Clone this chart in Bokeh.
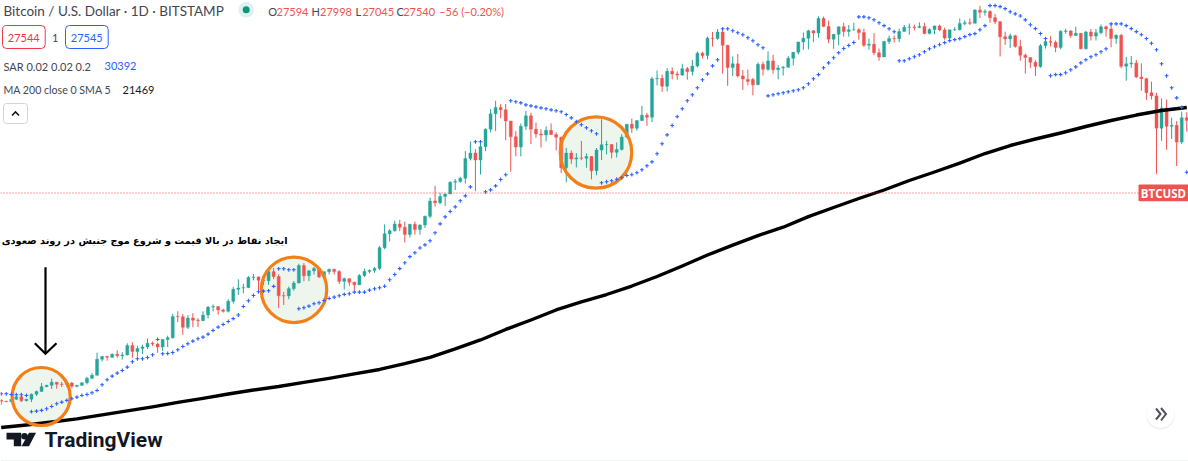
from bokeh.plotting import figure
from bokeh.models import Label, Span, BoxAnnotation
from bokeh.embed import file_html
from bokeh.resources import INLINE
import math

W, H = 1188, 461

opens = [
10620,10570,10550,10670,10790,10600,10670,10920,11060,11300,
11370,11530,11430,11420,11500,11320,11370,11510,11750,11910,
12820,12980,12930,13120,13030,13070,13650,13280,13460,13560,
13800,13750,13560,14030,14150,15590,15580,14840,15480,15330,
15290,15700,16280,16320,16070,15970,16720,17660,17770,17800,
18650,18690,18420,18370,19160,18730,17150,17130,17720,18180,
19700,18800,19220,19440,18700,19150,19360,19170,18320,18550,
18250,18030,18810,19170,19270,19440,21380,22800,23110,23830,
23480,22720,23810,23240,23730,24690,26490,26280,27040,27360,
28880,28980,29390,32200,33000,31980,33990,36830,39510,40670,
40240,38240,35570,33920,37330,39150,36830,36020,35840,36630,
35920,35490,30850,33000,32100,32270,32230,32480,30430,33470,
34280,34320,33110,33540,35510,37680,36970,38300,39250,38900,
46400,46490,44850,48010,47420,47190,48600,47970,49200,52170,
51600,55900,55800,57500,54100,48880,49700,47020,46230,46250,
45140,49590,48470,50370,48370,48770,48900,50970,52410,54920,
55850,57810,57230,61190,59000,55650,56900,58900,57650,58080,
58100,57350,54100,54340,52300,51300,55050,55800,55780,57630,
58790,58810,58720,58980,57090,58200,59130,58050,55950,58090,
58130,59770,60000,59860,63600,62950,63200,61400,60300,56250,
55700,56500,53800,51700,51150,50050,49100,54000,55040,54870,
53570,57650,57800,56580,57170,53240,57500,56430,57340,58900,
58290,55820,56650,49150,49700,49900,46760,46430,43540,42900,
37000,40600,37300,37500,34700,38800]
highs = [
10660,10590,10690,10800,10800,10680,10950,11100,11490,11400,
11730,11550,11550,11630,11540,11400,11520,11820,12020,13210,
13020,13030,13170,13350,13240,13790,13860,13640,13700,14100,
13900,13830,14070,14280,15790,15970,15770,15680,15840,15480,
15970,16350,16480,16330,16170,16870,17860,18490,18130,18780,
18960,18750,18770,19420,19480,18930,17460,17890,18350,19860,
19920,19310,19570,19540,19180,19420,19420,19280,18640,18560,
18290,18940,19420,19350,19570,21560,23800,23280,24200,24300,
24100,23840,24100,23800,24770,26900,28400,27500,27400,29000,
29300,29600,33300,34800,33600,34500,36950,40370,41950,41300,
41350,38200,36500,37800,40050,39700,37950,36800,37300,37800,
36300,35600,33800,33400,33000,34900,32950,32530,33780,38530,
34900,34400,34650,35990,37700,38650,38320,40970,39700,46770,
48200,47300,48700,48900,48000,49700,49000,50600,52600,52500,
56300,57500,58300,58000,54200,51400,52000,48300,48400,46600,
50000,50200,52600,51800,49400,49200,51500,52450,55000,57400,
58100,58000,61800,61700,60600,56950,58950,60000,59400,60000,
58500,58400,55800,57200,53300,55250,56600,56600,58400,59400,
59800,59500,60100,60000,58500,59200,59500,58650,58100,58800,
61200,60700,61200,63800,64850,63800,63500,62500,60400,57600,
57100,56800,55500,52100,51150,50500,54400,55400,56400,55300,
57950,58400,58000,58900,57200,57850,58300,58300,59500,59200,
59600,56900,57000,51300,51500,50600,49800,46600,45800,43500,
42400,42200,38800,38200,39900,39800]
lows = [
10400,10530,10520,10630,10530,10560,10530,10830,11050,11280,
11180,11200,11280,11270,11220,11260,11340,11420,11690,11900,
12690,12730,12900,12910,12800,13050,12900,12980,13130,13430,
13620,13200,13300,13550,14090,15200,14340,14720,14840,14850,
15280,15460,15960,15720,15870,15880,16550,17220,17340,17760,
18400,17610,18000,18030,18500,16200,16440,16880,17560,18170,
18330,18340,18910,18600,18500,18900,18900,18100,17650,17920,
17570,18020,18700,19000,19050,19290,21230,22000,23000,23060,
21900,22400,22700,22700,23400,24500,25800,26100,25880,27320,
27850,28800,28700,31900,27700,29900,33300,36300,36500,38700,
35000,30300,32500,32500,36700,34400,35400,33850,34800,35850,
33400,30100,28850,31400,30900,31950,30850,29250,29800,31950,
32800,32200,32350,33400,35370,36200,36570,38230,37400,38050,
45000,43700,43800,46300,46200,47050,46200,47100,48900,50900,
50700,53800,55500,47500,44900,47000,46700,44100,45000,43000,
45100,47100,48100,47500,46300,47100,48900,49300,51900,53000,
53100,54900,56000,58900,54600,53250,54100,56300,56300,57850,
55500,53700,53000,51700,50400,51300,54400,54800,54900,57700,
56800,57900,58500,56950,56900,56900,57700,55500,55700,57800,
57900,59300,59400,59800,61300,62000,60000,59600,51400,54200,
53400,53500,50400,47500,48800,47000,48800,53300,53800,52400,
53100,57050,56000,56450,53100,53100,55300,55300,56900,56300,
53600,54500,48700,46000,48800,46600,43900,42100,42200,30000,
34900,33500,35200,31100,34400,36400]
closes = [
10570,10550,10670,10790,10600,10670,10920,11060,11300,11370,
11530,11430,11420,11500,11320,11370,11510,11750,11910,12820,
12980,12930,13120,13030,13070,13650,13280,13460,13560,13800,
13750,13560,14030,14150,15590,15580,14840,15480,15330,15290,
15700,16280,16320,16070,15970,16720,17660,17770,17800,18650,
18690,18420,18370,19160,18730,17150,17130,17720,18180,19700,
18800,19220,19440,18700,19150,19360,19170,18320,18550,18250,
18030,18810,19170,19270,19440,21380,22800,23110,23830,23480,
22720,23810,23240,23730,24690,26490,26280,27040,27360,28880,
28980,29390,32200,33000,31980,33990,36830,39510,40670,40240,
38240,35570,33920,37330,39150,36830,36020,35840,36630,35920,
35490,30850,33000,32100,32270,32230,32480,30430,33470,34280,
34320,33110,33540,35510,37680,36970,38300,39250,38900,46400,
46490,44850,48010,47420,47190,48600,47970,49200,52170,51600,
55900,55800,57500,54100,48880,49700,47020,46340,45850,45140,
49590,48470,50370,48370,48770,48900,50970,52410,54920,55850,
57810,57230,61190,59000,55650,56900,58900,57650,58080,58100,
57350,54100,54340,52300,51300,55050,55820,55780,57630,58790,
58810,58720,58980,57090,58200,59130,58050,55950,58090,58130,
59770,60000,59860,63600,62950,63200,61400,60300,56250,55700,
56500,53800,51700,51150,50050,49100,54000,55030,54870,53570,
57700,57800,56580,57170,53240,57500,56430,57340,58900,58290,
55820,56650,49150,49700,49900,46760,46430,43540,42900,37000,
40600,37300,37500,34700,38800,38300]
sar = [
10938,10938,10903,10890,10890,10855,10075,10102,10135,10214,
10321,10451,10528,10611,10694,10772,10855,10903,10990,11107,
11400,11668,11860,12025,12175,12360,12670,12845,12845,12920,
13080,14035,13140,13160,13220,13385,13590,13760,13925,14080,
14185,14385,14626,14850,15035,15240,15440,15700,16330,16760,
17170,17470,17515,17545,17900,19405,19405,19320,19320,16156,
16230,16355,16535,16610,16783,16940,17040,17150,17255,17310,
17440,17440,17440,17595,17710,17790,17920,18455,18905,19420,
19950,20526,20885,21356,21660,22070,22890,23853,24624,25240,
25780,26510,27115,28255,34750,34750,27630,27880,28390,29230,
29880,41940,41750,41550,41170,40980,40790,40600,40430,40240,
40060,39880,39380,38790,38100,37580,37060,36550,36050,28790,
28930,29060,29270,29460,29780,29880,30160,30560,31130,31700,
32900,34440,35880,37450,38990,40430,41940,43110,44520,46180,
47460,49230,50620,58360,58360,57830,57290,56780,56010,55240,
54230,53480,42900,43110,43310,43510,43710,43910,44110,44520,
45340,46400,47300,48800,49920,51100,52270,53310,54050,54800,
61650,61650,61380,60810,59980,59200,58360,57570,50390,50390,
50860,51330,51800,52510,53240,53750,54250,54770,55270,55520,
55790,56300,56820,57080,58100,59200,64900,64900,64600,64000,
63100,62500,61900,60800,59450,58400,57100,55800,47050,47300,
47300,47700,48350,49010,49920,50620,51320,51800,52510,53240,
59680,59680,59680,59200,58400,57600,56800,55800,54600,53000,
49700,47050,44520,42500,40700,30220]
ma_days = list(range(0, 236, 5))
ma200 = [
9372,9480,9613,9750,9930,10112,10300,10515,10710,10930,
11130,11310,11525,11740,11985,12230,12557,12933,13435,14003,
14693,15347,16068,16667,17248,17932,18736,19658,20672,21641,
22606,23487,24659,25709,26793,27857,29099,30255,31527,32932,
34165,35201,36180,37280,38320,39290,40120,40670]
last_close = 27540

UP, DOWN, BLUE, ORANGE = "#26a69a", "#ef5350", "#2962ff", "#f57f17"
days = list(range(len(closes)))

# ---- pixel layout of the plot: frame -> data
x0, dx = 0.7, 5.045
px_per_log = 218.0
def X(px):
    return (px - x0) / dx
def Y(py):
    return last_close * math.exp((192 - py) / px_per_log)

p = figure(width=W, height=H, output_backend="svg", toolbar_location=None,
           x_range=(X(0), X(W)), y_range=(Y(H), Y(0)), y_axis_type="log",
           x_axis_location=None, y_axis_location=None, min_border=0,
           outline_line_color=None, background_fill_color="white")
p.grid.visible = False

# circles' fills under the candles
rings = [(40.7, 396, 58), (293.5, 289.3, 65.5), (595.5, 152, 71.5)]
p.scatter([X(r[0]) for r in rings], [Y(r[1]) for r in rings], size=[r[2] for r in rings],
          marker="circle", fill_color="#edf5ec", line_color=None)

# price line
p.add_layout(Span(location=Y(192.5), dimension="width", line_color="#f04040",
                  line_width=1.2, line_dash="1 2"))

colors = [UP if c >= o else DOWN for o, c in zip(opens, closes)]
p.segment(days, lows, days, highs, color=colors, line_width=1)
p.vbar(x=days, bottom=[min(o, c) for o, c in zip(opens, closes)],
       top=[max(o, c) for o, c in zip(opens, closes)], width=0.6,
       fill_color=colors, line_color=colors, line_width=0.4)

p.line(ma_days, ma200, line_color="black", line_width=3.4, line_join="round")
p.scatter([X(r[0]) for r in rings], [Y(r[1]) for r in rings], size=[r[2] for r in rings],
          marker="circle", fill_color=None, line_color=ORANGE, line_width=3.2)
p.scatter(days, sar, marker="cross", size=3.8, line_color=BLUE, line_width=1.1)

# screen-space helpers
def txt(x, yc, s, color="#131722", size=12, font="Lato", weight="normal", align="left"):
    p.add_layout(Label(x=x, y=H - yc, x_units="screen", y_units="screen", text=s,
                       text_color=color, text_font_size=f"{size}px", text_font=font,
                       text_font_style=weight, text_baseline="middle", text_align=align))
def box(l, t, r, b, fill=None, line=None, radius=0):
    p.add_layout(BoxAnnotation(left=l, right=r, top=H - t, bottom=H - b, left_units="screen",
                               right_units="screen", top_units="screen", bottom_units="screen",
                               fill_color=fill or "white", fill_alpha=1 if fill else 0,
                               line_color=line or "white", line_alpha=1 if line else 0, line_width=1,
                               border_radius=radius))
def stroke(pts, color="black", w=2):
    p.line([X(a) for a, _ in pts], [Y(b) for _, b in pts], line_color=color, line_width=w,
           line_join="miter")

# legend
FONT = "Lato"
GRAY = "#434651"
txt(3, 10, "Bitcoin / U.S. Dollar · 1D · BITSTAMP", GRAY, 13.5, FONT)
p.scatter([X(245.7)], [Y(9.3)], size=15.5, marker="circle", fill_color="#dff1ee", line_color=None)
p.scatter([X(245.7)], [Y(9.3)], size=7, marker="circle", fill_color="#089981", line_color=None)
for xt, s, c in [(267.7, "O", GRAY), (276, "27594", DOWN), (311, "H", GRAY), (319.5, "27998", DOWN),
                 (355, "L", GRAY), (361.7, "27045", DOWN), (396, "C", GRAY), (402.7, "27540", DOWN),
                 (438.7, "−56 (−0.20%)", DOWN)]:
    txt(xt, 11, s, c, 11, FONT)
box(2, 25, 44.7, 48, None, "#f23645", 4)
txt(23.3, 37.5, "27544", "#f23645", 11, FONT, align="center")
txt(54.7, 37.5, "1", GRAY, 11, FONT, align="center")
box(65, 25, 107.7, 48, None, "#2962ff", 4)
txt(86.3, 37.5, "27545", "#2962ff", 11, FONT, align="center")
txt(3, 65.7, "SAR 0.02 0.02 0.2", GRAY, 11, FONT)
txt(104, 65.7, "30392", "#2962ff", 11, FONT)
txt(3, 89.3, "MA 200 close 0 SMA 5", GRAY, 10.6, FONT)
txt(122, 89.3, "21469", "#131722", 11, FONT)
box(3, 103, 27, 123, None, "#d1d4dc", 3)
stroke([(11.5, 115), (15, 111.5), (18.5, 115)], "#131722", 1.6)

# price tag
box(1138, 184, 1188, 200.7, DOWN, None, 1)
txt(1163, 192.6, "BTCUSD", "white", 11.5, "Open Sans", "bold", "center")

# annotation
txt(287, 240, "ایجاد نقاط در بالا قیمت و شروع موج جنبش در روند صعودی", "black", 9.75, "DejaVu Sans", "bold", "right")
stroke([(45, 266.7), (45, 353)], "black", 2.2)
stroke([(34.3, 342.7), (45, 353.3), (56, 342.7)], "black", 2.2)

# logo
LOGO = "#131722"
p.patch([X(a) for a in (6, 20.7, 20.7, 13.3, 13.3, 6)],
        [Y(b) for b in (432.3, 432.3, 445.7, 445.7, 439, 439)], fill_color=LOGO, line_color=None)
p.scatter([X(24)], [Y(435.7)], size=6.6, marker="circle", fill_color=LOGO, line_color=None)
p.patch([X(a) for a in (28.5, 35.5, 28.5, 21)],
        [Y(b) for b in (432.3, 432.3, 445.7, 445.7)], fill_color=LOGO, line_color=None)
txt(44, 439, "TradingView", LOGO, 21, "Roboto", "bold")

# scroll button
p.scatter([X(1160)], [Y(414.5)], size=29, marker="circle", fill_color="#e9e9ec", line_color=None, alpha=0.7)
p.scatter([X(1160)], [Y(413.3)], size=28, marker="circle", fill_color="white", line_color=None)
stroke([(1155.5, 408), (1160, 413.5), (1155.5, 419)], "#50535e", 2)
stroke([(1160.5, 407.5), (1165.5, 413.5), (1160.5, 420)], "#50535e", 2)

# bottom rule
box(0, 460, W, 461, "#e0e3eb", None)

open("out.html", "w").write(file_html(p, INLINE))
